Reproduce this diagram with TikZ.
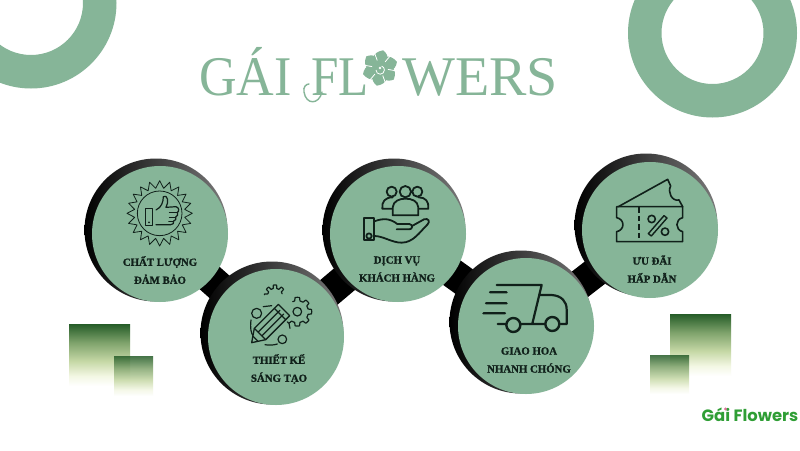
\documentclass[tikz,border=0pt]{standalone}
\usepackage{fontspec}
\usetikzlibrary{backgrounds}
\newfontfamily\labelfont{Liberation Serif}
\newfontfamily\capfont[BoldFeatures={FakeBold=1.2}]{Liberation Serif}
\newfontfamily\brandfont{Poppins}
\definecolor{mint}{HTML}{86B598}
\definecolor{inkdark}{HTML}{10201A}
\definecolor{brand}{HTML}{2F9E35}
\definecolor{dotpink}{HTML}{E0709A}
\definecolor{sqa}{HTML}{255C28}
\definecolor{sqb}{HTML}{7FA36C}
\definecolor{sqc}{HTML}{C6D8A6}
\definecolor{sqd}{HTML}{F3F7E4}
\pgfdeclareverticalshading{sqshade}{100bp}{color(0bp)=(white); color(25bp)=(white); color(33bp)=(sqd); color(45bp)=(sqc); color(60bp)=(sqb); color(75bp)=(sqa); color(100bp)=(sqa)}
\tikzset{
  disc/.style={circle,fill=mint,minimum size=136pt,inner sep=0pt,outer sep=0pt},
  rim/.style={circle,minimum size=143pt,inner sep=0pt,outer sep=0pt,shade,shading angle=35,left color=black,middle color=black!92,right color=black!52},
  link/.style={line width=30pt,black},
  captext/.style={font=\capfont\bfseries\fontsize{10.8}{18}\selectfont,text=inkdark,align=center,inner sep=0pt},
  icon/.style={draw=inkdark,line width=1.2pt,line join=round,line cap=round},
  iconb/.style={draw=inkdark,line width=1.8pt,line join=round,line cap=round},
  sq/.style={shading=sqshade},
  logo/.style={text=mint,inner sep=0pt,font=\labelfont\fontsize{56}{56}\selectfont},
  ring/.style={fill=mint,even odd rule}
}
\begin{document}
\begin{tikzpicture}[x=1pt,y=-1pt]
\useasboundingbox (0,0) rectangle (800,450);
\begin{scope}
\clip (0,0) rectangle (800,450);
\fill[ring] (31,3) circle (85.5) (31,3) circle (52);
\fill[ring] (712.5,33) circle (84.5) (712.5,33) circle (51);
\end{scope}
% title
\node[logo,anchor=base west,xscale=.93] (t1) at (199,95) {GÁI};
\node[logo,anchor=base west,xscale=.88] (t2) at (311,95) {FL};
\node[logo,anchor=base east,xscale=1.0] (t3) at (558,95) {WERS};
\draw[mint,line width=1.4pt,line cap=round] (322,92) .. controls (319,105) and (306,105) .. (304,92) .. controls (303,87) and (306,84) .. (309,84);
\begin{scope}[shift={(380,68)}]
\foreach \a in {20,80,140,200,260,320}{
  \fill[mint,rotate=\a] (0,0) .. controls (5,-11) and (14,-11) .. (18,0) .. controls (14,8) and (5,8) .. (0,0) -- cycle;
}
\fill[mint] (0,0) circle (9);
\draw[white,line width=.8pt] (0,0) circle (.8) (-4,2) arc[start angle=180,end angle=-70,radius=4.2];
\foreach \a in {50,110,170,230,290,350}{\draw[white,line width=.8pt,rotate=\a] (8,0) -- (18,0);}
\end{scope}
% squares
\shade[sq] (69,324) rectangle (130,386);
\shade[sq,opacity=.85] (114,356) rectangle (153,396);
\shade[sq] (670,314) rectangle (731,376);
\shade[sq,opacity=.85] (650,355) rectangle (689,394);
% shadows and discs
\node[rim] (s1) at (156,230) {};
\node[disc] (d1) at (160,234) {};
\node[rim] (s2) at (272,333) {};
\node[disc] (d2) at (276,337) {};
\node[rim] (s3) at (394,230) {};
\node[disc] (d3) at (398,234) {};
\node[rim] (s4) at (521,322) {};
\node[disc] (d4) at (526,326) {};
\node[rim] (s5) at (646,225) {};
\node[disc] (d5) at (650,230) {};
\begin{scope}[on background layer]
\fill[white] (0,0) rectangle (800,450);
\draw[link] (d1.center) -- (d2.center);
\draw[link] (d2.center) -- (d3.center);
\draw[link] (d3.center) -- (d4.center);
\draw[link] (d4.center) -- (d5.center);
\end{scope}
% captions
\node[captext] (c1) at (160,270) {CHẤT LƯỢNG\\ĐẢM BẢO};
\node[captext] (c2) at (279,369) {THIẾT KẾ\\SÁNG TẠO};
\node[captext] (c3) at (397,269) {DỊCH VỤ\\KHÁCH HÀNG};
\node[captext] (c4) at (529,360) {GIAO HOA\\NHANH CHÓNG};
\node[captext] (c5) at (652,269) {ƯU ĐÃI\\HẤP DẪN};
% icon 1 thumb badge
\begin{scope}[shift={(80,150)},scale=1/3]
\draw[icon,line width=.8pt] plot[samples=41,domain=0:40] ({239+(87+11*cos(\x*180))*cos(\x*9)},{190+(87+11*cos(\x*180))*sin(\x*9)}) -- cycle;
\draw[icon,line width=.8pt] (239,190) circle (67);
\draw[icon] (197,175) rectangle (217,226);
\fill[inkdark] (207,217) circle (3);
\draw[icon] (228,180) .. controls (245,172) and (250,155) .. (250,140) .. controls (262,132) and (268,155) .. (258,172) -- (288,170) .. controls (298,172) and (298,185) .. (292,187) .. controls (296,192) and (292,200) .. (287,201) .. controls (290,207) and (286,212) .. (281,213) .. controls (283,220) and (278,224) .. (272,224) -- (228,224);
\draw[icon,line width=.7pt] (292,187) -- (268,187) (287,201) -- (268,201) (281,213) -- (266,213);
\end{scope}
% icon 2 pencil and gears
\begin{scope}[shift={(80,150)},scale=1/3]
\draw[icon] plot[samples=140,domain=-115:135] ({652+(38+5*min(1,max(-1,3*cos(8*\x))))*cos(\x)},{485+(38+5*min(1,max(-1,3*cos(8*\x))))*sin(\x)});
\draw[icon] (652,485) circle (13);
\draw[icon] plot[samples=90,domain=185:345] ({585+(27+5*min(1,max(-1,3*cos(8*\x))))*cos(\x)},{437+(27+5*min(1,max(-1,3*cos(8*\x))))*sin(\x)});
\draw[icon] (530,490) circle (15) (607,568) circle (13);
\draw[icon] (513,510) .. controls (510,535) and (513,550) .. (520,558);
\draw[icon] (555,584) .. controls (565,586) and (580,586) .. (592,582);
\draw[icon] (627,520) -- (630,535) (550,470) -- (575,467);
\draw[icon,fill=mint,line width=1.3pt] (515,578) -- (523,535) -- (595,463) -- (629,497) -- (557,569) -- cycle;
\draw[icon] (583,475) -- (617,509) (523,535) -- (557,569) (520,560) -- (533,573);
\draw[icon] (535,546) -- (600,481) (546,557) -- (611,492);
\end{scope}
% icon 3 hand and people
\begin{scope}[shift={(320,150)},scale=1/3]
\draw[iconb] (215,125) circle (15) (256,125) circle (17) (292,125) circle (15);
\draw[iconb] (218,176) -- (187,176) .. controls (185,155) and (195,142) .. (218,142) ;
\draw[iconb] (296,176) -- (325,176) .. controls (327,155) and (317,142) .. (296,142);
\draw[iconb,fill=mint] (218,196) -- (218,172) .. controls (220,152) and (240,146) .. (256,146) .. controls (275,146) and (293,152) .. (295,172) -- (295,196) -- cycle;
\draw[iconb] (133,205) rectangle (163,270);
\draw[iconb] (147,258) circle (8);
\draw[iconb] (163,214) .. controls (190,204) and (210,205) .. (232,222) -- (268,222) .. controls (280,224) and (278,238) .. (268,238) -- (230,238);
\draw[iconb] (276,228) -- (312,208) .. controls (325,203) and (332,215) .. (322,224) .. controls (300,245) and (280,278) .. (245,278) .. controls (215,278) and (190,258) .. (163,258);
\end{scope}
% icon 4 truck
\begin{scope}[shift={(320,150)},scale=1/3]
\draw[iconb,line width=2.2pt] (530,405) -- (665,405) -- (637,521) (510,427) -- (560,427) (498,460) -- (560,460) (490,490) -- (555,490) (533,522) -- (558,522) (603,522) -- (673,522);
\draw[iconb,line width=2.2pt] (660,435) -- (695,435) .. controls (725,437) and (740,455) .. (740,478) -- (740,522) -- (722,522);
\draw[iconb,line width=2.4pt] (580,525) circle (21) (697,522) circle (21);
\end{scope}
% icon 5 ticket
\begin{scope}[shift={(570,150)},scale=1/3]
\draw[iconb,line width=1.6pt] (140,170) -- (338,170) -- (338,203) .. controls (315,208) and (315,240) .. (338,245) -- (338,275) -- (140,275) -- (140,245) .. controls (165,240) and (165,208) .. (140,203) -- cycle;
\draw[iconb,line width=1.6pt] (145,170) -- (293,88) -- (302,108) .. controls (292,125) and (305,155) .. (327,150) -- (338,170);
\draw[iconb,line width=1.6pt,dash pattern=on 5.5pt off 3pt,line cap=butt] (207,172) -- (207,275);
\draw[iconb,line width=1.6pt] (245,207) circle (11) (285,245) circle (11);
\draw[iconb,line width=1.4pt] (282,197) -- (291,204) -- (244,258) -- (235,251) -- cycle;
\end{scope}
% brand
\node[font=\brandfont\bfseries\fontsize{16.4}{16.4}\selectfont,text=brand,inner sep=0pt] (b) at (750,415) {Gái Flowers};
\fill[dotpink] (725.5,409) circle (1.6);
\end{tikzpicture}
\end{document}
